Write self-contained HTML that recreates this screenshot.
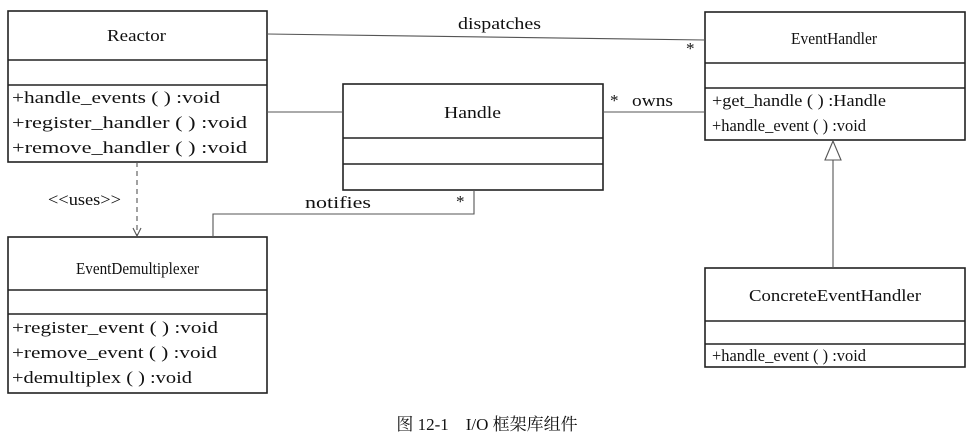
<!DOCTYPE html>
<html><head><meta charset="utf-8"><style>
body{margin:0;background:#fff;}
svg text{font-family:"Liberation Serif","Noto Serif CJK SC",serif;fill:#111;}
</style></head><body>
<svg width="975" height="442" viewBox="0 0 975 442" xmlns="http://www.w3.org/2000/svg">
<g fill="none" stroke="#222" stroke-width="1.6">
<rect x="8" y="11" width="259" height="151"/>
<line x1="8" y1="60" x2="267" y2="60"/><line x1="8" y1="85" x2="267" y2="85"/>
<rect x="343" y="84" width="260" height="106"/>
<line x1="343" y1="138" x2="603" y2="138"/><line x1="343" y1="164" x2="603" y2="164"/>
<rect x="705" y="12" width="260" height="128"/>
<line x1="705" y1="63" x2="965" y2="63"/><line x1="705" y1="88" x2="965" y2="88"/>
<rect x="8" y="237" width="259" height="156"/>
<line x1="8" y1="290" x2="267" y2="290"/><line x1="8" y1="314" x2="267" y2="314"/>
<rect x="705" y="268" width="260" height="99"/>
<line x1="705" y1="321" x2="965" y2="321"/><line x1="705" y1="344" x2="965" y2="344"/>
</g>
<g fill="none" stroke="#555" stroke-width="1.1">
<line x1="267" y1="34" x2="705" y2="40"/>
<line x1="267" y1="112" x2="343" y2="112"/>
<line x1="603" y1="112" x2="705" y2="112"/>
<line x1="137" y1="162" x2="137" y2="236" stroke-dasharray="5,4"/>
<polyline points="133,228 137,236 141,228"/>
<polyline points="474,190 474,214 213,214 213,237"/>
<line x1="833" y1="268" x2="833" y2="160"/>
<polygon points="833,141 825,160 841,160" fill="#fff"/>
</g>
<g font-size="17" lengthAdjust="spacingAndGlyphs">
<text x="107" y="41" textLength="59" lengthAdjust="spacingAndGlyphs">Reactor</text>
<text x="12" y="103" textLength="208" lengthAdjust="spacingAndGlyphs">+handle_events ( ) :void</text>
<text x="12" y="128" textLength="235" lengthAdjust="spacingAndGlyphs">+register_handler ( ) :void</text>
<text x="12" y="153" textLength="235" lengthAdjust="spacingAndGlyphs">+remove_handler ( ) :void</text>
<text x="444" y="118" textLength="57" lengthAdjust="spacingAndGlyphs">Handle</text>
<text x="791" y="44" textLength="86" lengthAdjust="spacingAndGlyphs">EventHandler</text>
<text x="712" y="106" textLength="174" lengthAdjust="spacingAndGlyphs">+get_handle ( ) :Handle</text>
<text x="712" y="131" textLength="154" lengthAdjust="spacingAndGlyphs">+handle_event ( ) :void</text>
<text x="76" y="274" textLength="123" lengthAdjust="spacingAndGlyphs">EventDemultiplexer</text>
<text x="12" y="333" textLength="206" lengthAdjust="spacingAndGlyphs">+register_event ( ) :void</text>
<text x="12" y="358" textLength="205" lengthAdjust="spacingAndGlyphs">+remove_event ( ) :void</text>
<text x="12" y="383" textLength="180" lengthAdjust="spacingAndGlyphs">+demultiplex ( ) :void</text>
<text x="749" y="301" textLength="172" lengthAdjust="spacingAndGlyphs">ConcreteEventHandler</text>
<text x="712" y="361" textLength="154" lengthAdjust="spacingAndGlyphs">+handle_event ( ) :void</text>
<text x="458" y="29" textLength="83" lengthAdjust="spacingAndGlyphs">dispatches</text>
<text x="686" y="54">*</text>
<text x="610" y="106">*</text>
<text x="632" y="106" textLength="41" lengthAdjust="spacingAndGlyphs">owns</text>
<text x="48" y="205" textLength="73" lengthAdjust="spacingAndGlyphs">&lt;&lt;uses&gt;&gt;</text>
<text x="305" y="208" textLength="66" lengthAdjust="spacingAndGlyphs">notifies</text>
<text x="456" y="207">*</text>
<text x="487" y="430" text-anchor="middle">图 12-1　I/O 框架库组件</text>
</g>
</svg>
</body></html>
